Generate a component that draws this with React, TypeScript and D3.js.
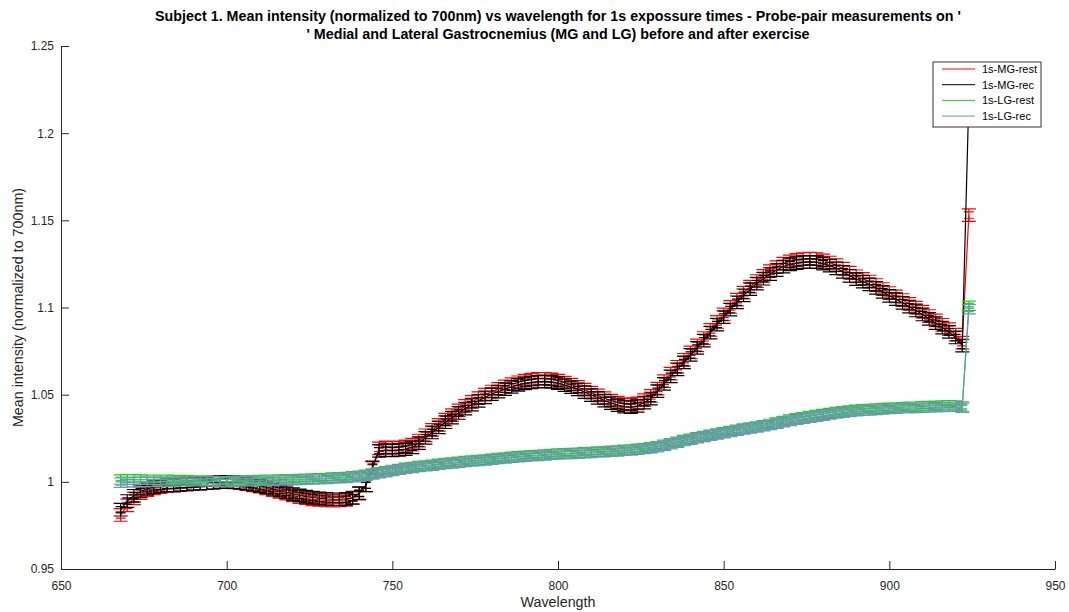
import React, { useRef, useEffect } from 'react';
import * as d3 from 'd3';

const W = 1069;
const H = 612;
const MARGIN = { top: 46, right: 14, bottom: 43, left: 61 };

// sample grid: 668 nm .. 924 nm, one sample every 2 nm
const WL_START = 668;
const WL_STEP = 2;

const mgRest = [
  0.981, 0.9865, 0.9905, 0.9935, 0.9952, 0.9963, 0.997, 0.9976, 0.9978, 0.9982, 0.9985, 0.9988, 0.999, 0.9992, 0.9995, 0.9998, 1.0,
  0.9997, 0.9993, 0.9987, 0.998, 0.9972, 0.9963, 0.9952, 0.9942, 0.9932, 0.9922, 0.9913, 0.9906, 0.99, 0.9896, 0.9893, 0.9892, 0.9893,
  0.9897, 0.9906, 0.9932, 0.998, 1.0085, 1.0192, 1.0197, 1.0195, 1.0198, 1.0203, 1.0213, 1.0237, 1.0267, 1.0298, 1.0327, 1.0357,
  1.0383, 1.041, 1.0435, 1.0458, 1.048, 1.05, 1.0518, 1.0533, 1.0547, 1.056, 1.0571, 1.058, 1.0586, 1.059, 1.0591, 1.0588, 1.058,
  1.0569, 1.0557, 1.0544, 1.0529, 1.0512, 1.0496, 1.048, 1.0466, 1.0454, 1.0446, 1.0443, 1.045, 1.0469, 1.0493, 1.0535, 1.0577,
  1.062, 1.066, 1.07, 1.0743, 1.0783, 1.0825, 1.0871, 1.0917, 1.096, 1.1003, 1.1045, 1.1085, 1.112, 1.1152, 1.1181, 1.1208, 1.1232,
  1.1252, 1.1265, 1.1273, 1.1278, 1.128, 1.1278, 1.127, 1.1258, 1.1243, 1.1223, 1.12, 1.1179, 1.1164, 1.1149, 1.1129, 1.1106,
  1.1083, 1.1064, 1.1043, 1.1021, 1.0999, 1.0976, 1.0951, 1.0926, 1.0901, 1.0876, 1.0844, 1.0798, 1.153,
];

const mgRec = [
  0.984, 0.989, 0.992, 0.9945, 0.996, 0.997, 0.9975, 0.998, 0.998, 0.9983, 0.9985, 0.9988, 0.999, 0.9992, 0.9995, 0.9998, 1.0,
  0.9998, 0.9995, 0.999, 0.9984, 0.9977, 0.997, 0.996, 0.995, 0.994, 0.993, 0.9922, 0.9915, 0.991, 0.9905, 0.9902, 0.99, 0.99,
  0.9902, 0.991, 0.9935, 0.998, 1.008, 1.0178, 1.0182, 1.018, 1.0183, 1.0188, 1.0198, 1.0222, 1.0252, 1.0283, 1.0312, 1.0342,
  1.0368, 1.0395, 1.042, 1.0443, 1.0465, 1.0485, 1.0503, 1.0518, 1.0532, 1.0545, 1.0556, 1.0565, 1.0571, 1.0575, 1.0576, 1.0573,
  1.0566, 1.0555, 1.0543, 1.053, 1.0515, 1.0498, 1.0482, 1.0466, 1.0452, 1.044, 1.0432, 1.0429, 1.0436, 1.0455, 1.0478, 1.052,
  1.0562, 1.0605, 1.0645, 1.0685, 1.0728, 1.0768, 1.081, 1.0856, 1.0902, 1.0945, 1.0988, 1.103, 1.107, 1.1105, 1.1137, 1.1165,
  1.1192, 1.1215, 1.1235, 1.1247, 1.1255, 1.126, 1.1262, 1.126, 1.1252, 1.124, 1.1225, 1.1205, 1.1182, 1.1163, 1.1148, 1.1133,
  1.1113, 1.109, 1.1067, 1.1048, 1.1027, 1.1005, 1.0983, 1.096, 1.0935, 1.091, 1.0885, 1.086, 1.0828, 1.0782, 1.22,
];

const lgRest = [
  1.0013, 1.0014, 1.0014, 1.0013, 1.0012, 1.0011, 1.0011, 1.0011, 1.001, 1.001, 1.0009, 1.0008, 1.0007, 1.0006, 1.0005, 1.0003, 1.0,
  1.0006, 1.0007, 1.0008, 1.0009, 1.001, 1.0011, 1.0012, 1.0013, 1.0014, 1.0015, 1.0016, 1.0017, 1.0019, 1.002, 1.0022, 1.0024,
  1.0026, 1.0028, 1.0031, 1.0035, 1.004, 1.0047, 1.0055, 1.0061, 1.0068, 1.0074, 1.008, 1.0085, 1.009, 1.0094, 1.0098, 1.0103,
  1.0107, 1.0111, 1.0115, 1.0119, 1.0122, 1.0125, 1.0128, 1.0132, 1.0136, 1.0139, 1.0143, 1.0146, 1.0149, 1.0152, 1.0154, 1.0157,
  1.016, 1.0162, 1.0164, 1.0165, 1.0167, 1.0169, 1.0171, 1.0173, 1.0175, 1.0178, 1.018, 1.0183, 1.0185, 1.0189, 1.0193, 1.0198,
  1.0204, 1.0212, 1.0221, 1.023, 1.0239, 1.0247, 1.0255, 1.0263, 1.027, 1.0277, 1.0284, 1.0291, 1.0298, 1.0305, 1.0311, 1.0317,
  1.0324, 1.0332, 1.034, 1.0349, 1.0357, 1.0364, 1.037, 1.0377, 1.0383, 1.0389, 1.0395, 1.04, 1.0405, 1.0409, 1.0413, 1.0416,
  1.0418, 1.042, 1.0422, 1.0424, 1.0426, 1.0428, 1.043, 1.0431, 1.0433, 1.0434, 1.0436, 1.0438, 1.0439, 1.0438, 1.0432, 1.101,
];

const lgRec = [
  0.9995, 0.9997, 0.9998, 0.9999, 1.0, 1.0, 1.0001, 1.0002, 1.0002, 1.0003, 1.0003, 1.0003, 1.0003, 1.0002, 1.0002, 1.0001, 1.0,
  1.0001, 1.0002, 1.0003, 1.0004, 1.0005, 1.0006, 1.0007, 1.0008, 1.0009, 1.001, 1.0011, 1.0012, 1.0014, 1.0015, 1.0017, 1.0019,
  1.0021, 1.0023, 1.0026, 1.003, 1.0035, 1.0042, 1.005, 1.0056, 1.0063, 1.0069, 1.0075, 1.008, 1.0085, 1.0089, 1.0093, 1.0098,
  1.0102, 1.0106, 1.011, 1.0114, 1.0117, 1.012, 1.0123, 1.0127, 1.0131, 1.0134, 1.0138, 1.0141, 1.0144, 1.0147, 1.0149, 1.0152,
  1.0155, 1.0157, 1.0159, 1.016, 1.0162, 1.0164, 1.0166, 1.0168, 1.017, 1.0173, 1.0175, 1.0178, 1.018, 1.0184, 1.0188, 1.0193,
  1.0199, 1.0207, 1.0216, 1.0225, 1.0234, 1.0242, 1.025, 1.0258, 1.0265, 1.0272, 1.0279, 1.0286, 1.0293, 1.03, 1.0306, 1.0312,
  1.0319, 1.0326, 1.0334, 1.0342, 1.0349, 1.0356, 1.0362, 1.0368, 1.0374, 1.038, 1.0386, 1.0392, 1.0397, 1.0401, 1.0405, 1.0408,
  1.041, 1.0413, 1.0415, 1.0418, 1.042, 1.0422, 1.0423, 1.0424, 1.0425, 1.0426, 1.0428, 1.043, 1.0431, 1.0431, 1.0425, 1.099,
];

const seriesNames = ['1s-MG-rest', '1s-MG-rec', '1s-LG-rest', '1s-LG-rec'];
const seriesColors = ['#ff0000', '#000000', '#1fd11f', '#6b96b4'];
const seriesErrors = [0.0036, 0.0036, 0.0027, 0.0027];
const seriesValues = [mgRest, mgRec, lgRest, lgRec];

const xTicks = [650, 700, 750, 800, 850, 900, 950];
const yTicks = [0.95, 1, 1.05, 1.1, 1.15, 1.2, 1.25];

const titleLines = [
  "Subject 1. Mean intensity (normalized to 700nm) vs wavelength for 1s expossure times - Probe-pair measurements on '",
  "' Medial and Lateral Gastrocnemius (MG and LG) before and after exercise",
];

const FONT = '"Liberation Sans", Arial, Helvetica, sans-serif';
const AXIS_COLOR = '#262626';
const CAP = 7;

export default function App() {
  const svgRef = useRef<SVGSVGElement | null>(null);

  useEffect(() => {
    const svg = d3.select(svgRef.current);
    svg.selectAll('*').remove();

    const x = d3.scaleLinear().domain([650, 950]).range([MARGIN.left, W - MARGIN.right]);
    const y = d3.scaleLinear().domain([0.95, 1.25]).range([H - MARGIN.bottom, MARGIN.top]);
    const wl = mgRec.map((_, i) => WL_START + i * WL_STEP);

    svg.append('rect').attr('width', W).attr('height', H).attr('fill', '#fff');

    svg.append('clipPath').attr('id', 'plot-clip')
      .append('rect')
      .attr('x', MARGIN.left).attr('y', MARGIN.top)
      .attr('width', W - MARGIN.left - MARGIN.right)
      .attr('height', H - MARGIN.top - MARGIN.bottom);

    const plot = svg.append('g').attr('clip-path', 'url(#plot-clip)');

    const line = d3.line<number>()
      .x((_, i) => x(wl[i]))
      .y(d => y(d));

    // error bars + connecting line, MATLAB errorbar style
    seriesValues.forEach((vals, s) => {
      const e = seriesErrors[s];
      let p = '';
      vals.forEach((v, i) => {
        const px = x(wl[i]);
        const y1 = y(v - e);
        const y2 = y(v + e);
        p += `M${px},${y1}V${y2}M${px - CAP},${y1}H${px + CAP}M${px - CAP},${y2}H${px + CAP}`;
        // inner caps give the dense hatched look of the original
        const ym = y(v);
        p += `M${px - CAP + 2},${(y1 + ym) / 2}H${px + CAP - 2}M${px - CAP + 2},${(y2 + ym) / 2}H${px + CAP - 2}`;
      });
      plot.append('path')
        .attr('d', p)
        .attr('fill', 'none')
        .attr('stroke', seriesColors[s])
        .attr('stroke-width', 1.2);
      plot.append('path')
        .datum(vals)
        .attr('d', line)
        .attr('fill', 'none')
        .attr('stroke', seriesColors[s])
        .attr('stroke-width', 1.2);
    });

    // X axis (ticks point inward)
    const xAxis = svg.append('g')
      .attr('transform', `translate(0,${H - MARGIN.bottom})`)
      .call(d3.axisBottom(x).tickValues(xTicks).tickSize(-8).tickSizeOuter(0).tickPadding(8).tickFormat(d3.format('d')));
    xAxis.select('.domain').attr('stroke', AXIS_COLOR);
    xAxis.selectAll('line').attr('stroke', AXIS_COLOR);
    xAxis.selectAll('text').attr('fill', AXIS_COLOR).attr('font-size', 12).attr('font-family', FONT).attr('dy', '1.05em');

    // Y axis
    const yAxis = svg.append('g')
      .attr('transform', `translate(${MARGIN.left},0)`)
      .call(d3.axisLeft(y).tickValues(yTicks).tickSize(-8).tickSizeOuter(0).tickPadding(6).tickFormat(d => String(+d)));
    yAxis.select('.domain').attr('stroke', AXIS_COLOR);
    yAxis.selectAll('line').attr('stroke', AXIS_COLOR);
    yAxis.selectAll('text').attr('fill', AXIS_COLOR).attr('font-size', 12).attr('font-family', FONT);
    yAxis.selectAll('.tick text').attr('x', -7);

    // Axis labels
    svg.append('text')
      .attr('x', (MARGIN.left + W - MARGIN.right) / 2).attr('y', 607)
      .attr('text-anchor', 'middle')
      .attr('fill', AXIS_COLOR).attr('font-size', 14.3).attr('font-family', FONT)
      .text('Wavelength');

    svg.append('text')
      .attr('transform', `translate(23,${(MARGIN.top + H - MARGIN.bottom) / 2}) rotate(-90)`)
      .attr('text-anchor', 'middle')
      .attr('fill', AXIS_COLOR).attr('font-size', 14.3).attr('font-family', FONT)
      .text('Mean intensity (normalized to 700nm)');

    // Title
    titleLines.forEach((t, i) => {
      svg.append('text')
        .attr('x', (MARGIN.left + W - MARGIN.right) / 2).attr('y', 21 + i * 18)
        .attr('text-anchor', 'middle')
        .attr('fill', '#000').attr('font-size', 14.3).attr('font-weight', 'bold').attr('font-family', FONT)
        .text(t);
    });

    // Legend
    const lg = svg.append('g').attr('transform', 'translate(933,62)');
    lg.append('rect')
      .attr('width', 108).attr('height', 65)
      .attr('fill', '#fff').attr('stroke', '#333').attr('stroke-width', 1);
    seriesNames.forEach((name, i) => {
      const ly = 7 + i * 15.7;
      lg.append('line')
        .attr('x1', 9).attr('x2', 42).attr('y1', ly).attr('y2', ly)
        .attr('stroke', seriesColors[i]).attr('stroke-width', 1);
      lg.append('text')
        .attr('x', 49).attr('y', ly).attr('dy', '0.35em')
        .attr('fill', '#000').attr('font-size', 11).attr('font-family', FONT)
        .text(name);
    });
  }, []);

  return (
    <svg
      ref={svgRef}
      width={W}
      height={H}
      style={{ position: 'absolute', left: 0, top: 0, display: 'block' }}
    />
  );
}
